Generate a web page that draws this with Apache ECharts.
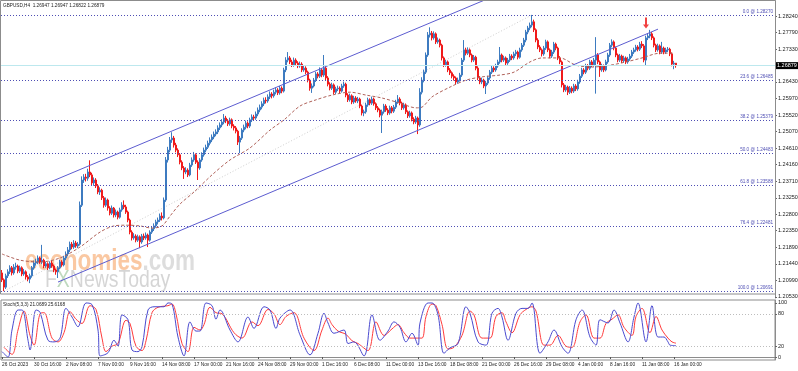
<!DOCTYPE html>
<html><head><meta charset="utf-8">
<script src="https://cdn.jsdelivr.net/npm/echarts@6/dist/echarts.min.js"></script>
<style>html,body{margin:0;padding:0;background:#fff}#c{width:798px;height:371px}</style>
</head><body><div id="c"></div>
<script>
// ---- data (GBPUSD H4, 26 Oct 2023 - 16 Jan 2024) ----
const opens = [
1.2119,1.2100,1.2080,1.2111,1.2122,1.2133,1.2119,1.2135,1.2138,1.2124,
1.2133,1.2116,1.2122,1.2108,1.2102,1.2111,1.2133,1.2146,1.2149,1.2160,
1.2149,1.2154,1.2138,1.2144,1.2133,1.2146,1.2138,1.2127,1.2122,1.2133,
1.2149,1.2141,1.2160,1.2171,1.2182,1.2198,1.2190,1.2201,1.2193,1.2198,
1.2305,1.2374,1.2382,1.2379,1.2396,1.2388,1.2366,1.2374,1.2358,1.2341,
1.2346,1.2325,1.2305,1.2319,1.2297,1.2283,1.2297,1.2278,1.2286,1.2272,
1.2292,1.2305,1.2300,1.2286,1.2264,1.2231,1.2215,1.2220,1.2209,1.2218,
1.2204,1.2220,1.2215,1.2223,1.2209,1.2231,1.2240,1.2248,1.2259,1.2264,
1.2275,1.2270,1.2319,1.2429,1.2456,1.2484,1.2489,1.2470,1.2456,1.2443,
1.2423,1.2407,1.2396,1.2401,1.2388,1.2415,1.2429,1.2443,1.2423,1.2407,
1.2429,1.2443,1.2456,1.2464,1.2475,1.2484,1.2492,1.2500,1.2506,1.2517,
1.2525,1.2533,1.2544,1.2536,1.2528,1.2539,1.2522,1.2517,1.2508,1.2478,
1.2489,1.2511,1.2519,1.2530,1.2522,1.2539,1.2547,1.2544,1.2555,1.2566,
1.2574,1.2583,1.2593,1.2591,1.2602,1.2610,1.2605,1.2615,1.2621,1.2613,
1.2626,1.2618,1.2676,1.2703,1.2709,1.2698,1.2690,1.2703,1.2695,1.2687,
1.2692,1.2676,1.2681,1.2670,1.2648,1.2626,1.2632,1.2648,1.2665,1.2659,
1.2676,1.2662,1.2681,1.2654,1.2637,1.2626,1.2635,1.2615,1.2624,1.2626,
1.2618,1.2632,1.2637,1.2607,1.2594,1.2605,1.2588,1.2599,1.2591,1.2596,
1.2577,1.2558,1.2561,1.2580,1.2594,1.2585,1.2596,1.2583,1.2572,1.2566,
1.2552,1.2561,1.2577,1.2566,1.2558,1.2572,1.2563,1.2574,1.2588,1.2596,
1.2585,1.2572,1.2580,1.2561,1.2550,1.2558,1.2541,1.2533,1.2544,1.2525,
1.2615,1.2648,1.2670,1.2717,1.2772,1.2777,1.2764,1.2775,1.2753,1.2758,
1.2744,1.2709,1.2690,1.2698,1.2676,1.2668,1.2659,1.2654,1.2643,1.2648,
1.2662,1.2703,1.2731,1.2722,1.2731,1.2717,1.2703,1.2711,1.2681,1.2654,
1.2643,1.2648,1.2632,1.2640,1.2654,1.2670,1.2681,1.2676,1.2687,1.2698,
1.2717,1.2703,1.2709,1.2695,1.2703,1.2714,1.2709,1.2720,1.2725,1.2711,
1.2731,1.2744,1.2758,1.2780,1.2791,1.2799,1.2808,1.2786,1.2758,1.2739,
1.2731,1.2720,1.2736,1.2753,1.2731,1.2714,1.2725,1.2747,1.2736,1.2709,
1.2698,1.2635,1.2621,1.2629,1.2615,1.2626,1.2618,1.2632,1.2624,1.2643,
1.2659,1.2676,1.2670,1.2687,1.2681,1.2698,1.2690,1.2703,1.2717,1.2698,
1.2676,1.2687,1.2676,1.2698,1.2717,1.2744,1.2753,1.2736,1.2717,1.2703,
1.2714,1.2701,1.2709,1.2698,1.2706,1.2714,1.2725,1.2731,1.2739,1.2733,
1.2747,1.2742,1.2703,1.2764,1.2769,1.2775,1.2764,1.2744,1.2731,1.2742,
1.2725,1.2736,1.2725,1.2731,1.2733,1.2720,1.2692,1.26947];
const closes = [
1.2100,1.2080,1.2111,1.2122,1.2133,1.2119,1.2135,1.2138,1.2124,1.2133,
1.2116,1.2122,1.2108,1.2102,1.2111,1.2133,1.2146,1.2149,1.2160,1.2149,
1.2154,1.2138,1.2144,1.2133,1.2146,1.2138,1.2127,1.2122,1.2133,1.2149,
1.2141,1.2160,1.2171,1.2182,1.2198,1.2190,1.2201,1.2193,1.2198,1.2305,
1.2374,1.2382,1.2379,1.2396,1.2388,1.2366,1.2374,1.2358,1.2341,1.2346,
1.2325,1.2305,1.2319,1.2297,1.2283,1.2297,1.2278,1.2286,1.2272,1.2292,
1.2305,1.2300,1.2286,1.2264,1.2231,1.2215,1.2220,1.2209,1.2218,1.2204,
1.2220,1.2215,1.2223,1.2209,1.2231,1.2240,1.2248,1.2259,1.2264,1.2275,
1.2270,1.2319,1.2429,1.2456,1.2484,1.2489,1.2470,1.2456,1.2443,1.2423,
1.2407,1.2396,1.2401,1.2388,1.2415,1.2429,1.2443,1.2423,1.2407,1.2429,
1.2443,1.2456,1.2464,1.2475,1.2484,1.2492,1.2500,1.2506,1.2517,1.2525,
1.2533,1.2544,1.2536,1.2528,1.2539,1.2522,1.2517,1.2508,1.2478,1.2489,
1.2511,1.2519,1.2530,1.2522,1.2539,1.2547,1.2544,1.2555,1.2566,1.2574,
1.2583,1.2593,1.2591,1.2602,1.2610,1.2605,1.2615,1.2621,1.2613,1.2626,
1.2618,1.2676,1.2703,1.2709,1.2698,1.2690,1.2703,1.2695,1.2687,1.2692,
1.2676,1.2681,1.2670,1.2648,1.2626,1.2632,1.2648,1.2665,1.2659,1.2676,
1.2662,1.2681,1.2654,1.2637,1.2626,1.2635,1.2615,1.2624,1.2626,1.2618,
1.2632,1.2637,1.2607,1.2594,1.2605,1.2588,1.2599,1.2591,1.2596,1.2577,
1.2558,1.2561,1.2580,1.2594,1.2585,1.2596,1.2583,1.2572,1.2566,1.2552,
1.2561,1.2577,1.2566,1.2558,1.2572,1.2563,1.2574,1.2588,1.2596,1.2585,
1.2572,1.2580,1.2561,1.2550,1.2558,1.2541,1.2533,1.2544,1.2525,1.2615,
1.2648,1.2670,1.2717,1.2772,1.2777,1.2764,1.2775,1.2753,1.2758,1.2744,
1.2709,1.2690,1.2698,1.2676,1.2668,1.2659,1.2654,1.2643,1.2648,1.2662,
1.2703,1.2731,1.2722,1.2731,1.2717,1.2703,1.2711,1.2681,1.2654,1.2643,
1.2648,1.2632,1.2640,1.2654,1.2670,1.2681,1.2676,1.2687,1.2698,1.2717,
1.2703,1.2709,1.2695,1.2703,1.2714,1.2709,1.2720,1.2725,1.2711,1.2731,
1.2744,1.2758,1.2780,1.2791,1.2799,1.2808,1.2786,1.2758,1.2739,1.2731,
1.2720,1.2736,1.2753,1.2731,1.2714,1.2725,1.2747,1.2736,1.2709,1.2698,
1.2635,1.2621,1.2629,1.2615,1.2626,1.2618,1.2632,1.2624,1.2643,1.2659,
1.2676,1.2670,1.2687,1.2681,1.2698,1.2690,1.2703,1.2717,1.2698,1.2676,
1.2687,1.2676,1.2698,1.2717,1.2744,1.2753,1.2736,1.2717,1.2703,1.2714,
1.2701,1.2709,1.2698,1.2706,1.2714,1.2725,1.2731,1.2739,1.2733,1.2747,
1.2742,1.2703,1.2764,1.2769,1.2775,1.2764,1.2744,1.2731,1.2742,1.2725,
1.2736,1.2725,1.2731,1.2733,1.2720,1.2692,1.26947,1.26879];
const highs = [
1.2127,1.2104,1.2117,1.2129,1.2140,1.2138,1.2143,1.2147,1.2142,1.2139,
1.2137,1.2130,1.2126,1.2113,1.2117,1.2138,1.2153,1.2158,1.2167,1.2164,
1.2196,1.2158,1.2150,1.2148,1.2151,1.2152,1.2142,1.2131,1.2138,1.2155,
1.2154,1.2166,1.2178,1.2190,1.2205,1.2204,1.2209,1.2207,1.2204,1.2315,
1.2384,1.2390,1.2391,1.2405,1.2428,1.2394,1.2381,1.2379,1.2363,1.2354,
1.2350,1.2330,1.2326,1.2323,1.2302,1.2304,1.2300,1.2293,1.2290,1.2298,
1.2313,1.2318,1.2306,1.2290,1.2268,1.2236,1.2228,1.2225,1.2224,1.2222,
1.2226,1.2227,1.2230,1.2227,1.2236,1.2247,1.2255,1.2265,1.2271,1.2282,
1.2285,1.2326,1.2437,1.2465,1.2492,1.2505,1.2495,1.2476,1.2461,1.2448,
1.2428,1.2412,1.2409,1.2406,1.2421,1.2436,1.2451,1.2447,1.2428,1.2434,
1.2450,1.2463,1.2471,1.2482,1.2491,1.2499,1.2507,1.2513,1.2524,1.2532,
1.2541,1.2555,1.2550,1.2541,1.2545,1.2543,1.2527,1.2522,1.2512,1.2495,
1.2516,1.2526,1.2537,1.2535,1.2545,1.2554,1.2553,1.2562,1.2573,1.2581,
1.2590,1.2600,1.2601,1.2609,1.2617,1.2615,1.2622,1.2628,1.2626,1.2632,
1.2631,1.2682,1.2711,1.2725,1.2714,1.2704,1.2710,1.2708,1.2700,1.2699,
1.2697,1.2688,1.2686,1.2674,1.2652,1.2639,1.2654,1.2671,1.2670,1.2683,
1.2681,1.2717,1.2686,1.2659,1.2642,1.2641,1.2639,1.2630,1.2633,1.2631,
1.2638,1.2644,1.2641,1.2612,1.2611,1.2609,1.2605,1.2604,1.2602,1.2600,
1.2581,1.2567,1.2586,1.2600,1.2598,1.2603,1.2600,1.2587,1.2577,1.2570,
1.2567,1.2583,1.2582,1.2571,1.2578,1.2577,1.2580,1.2594,1.2607,1.2601,
1.2589,1.2586,1.2584,1.2565,1.2564,1.2562,1.2546,1.2550,1.2548,1.2626,
1.2656,1.2677,1.2724,1.2780,1.2793,1.2783,1.2782,1.2779,1.2765,1.2762,
1.2748,1.2713,1.2704,1.2702,1.2681,1.2672,1.2664,1.2658,1.2655,1.2668,
1.2709,1.2758,1.2737,1.2738,1.2735,1.2721,1.2717,1.2715,1.2686,1.2659,
1.2655,1.2652,1.2646,1.2660,1.2676,1.2687,1.2686,1.2693,1.2704,1.2739,
1.2721,1.2715,1.2713,1.2709,1.2720,1.2719,1.2726,1.2731,1.2729,1.2737,
1.2750,1.2764,1.2786,1.2797,1.2806,1.2827,1.2814,1.2790,1.2763,1.2744,
1.2735,1.2742,1.2759,1.2757,1.2735,1.2731,1.2753,1.2751,1.2740,1.2714,
1.2702,1.2640,1.2635,1.2633,1.2632,1.2631,1.2638,1.2637,1.2649,1.2665,
1.2682,1.2681,1.2693,1.2692,1.2704,1.2703,1.2709,1.2766,1.2722,1.2702,
1.2693,1.2691,1.2704,1.2723,1.2750,1.2760,1.2757,1.2740,1.2721,1.2720,
1.2718,1.2715,1.2713,1.2712,1.2720,1.2731,1.2737,1.2745,1.2744,1.2753,
1.2755,1.2747,1.2770,1.2776,1.2786,1.2780,1.2768,1.2748,1.2748,1.2746,
1.2753,1.2740,1.2737,1.2739,1.2737,1.2724,1.2701,1.26947];
const lows = [
1.2094,1.2069,1.2075,1.2105,1.2116,1.2112,1.2114,1.2128,1.2118,1.2119,
1.2110,1.2111,1.2101,1.2096,1.2091,1.2106,1.2128,1.2139,1.2143,1.2144,
1.2143,1.2132,1.2133,1.2127,1.2129,1.2133,1.2121,1.2114,1.2105,1.2129,
1.2136,1.2137,1.2154,1.2165,1.2176,1.2184,1.2185,1.2188,1.2187,1.2194,
1.2300,1.2366,1.2370,1.2372,1.2382,1.2360,1.2358,1.2352,1.2335,1.2333,
1.2319,1.2298,1.2300,1.2290,1.2277,1.2278,1.2271,1.2272,1.2266,1.2268,
1.2287,1.2294,1.2281,1.2258,1.2225,1.2208,1.2210,1.2203,1.2204,1.2187,
1.2199,1.2209,1.2210,1.2190,1.2205,1.2226,1.2234,1.2243,1.2252,1.2259,
1.2263,1.2266,1.2314,1.2422,1.2450,1.2476,1.2463,1.2450,1.2437,1.2417,
1.2401,1.2377,1.2390,1.2382,1.2384,1.2410,1.2424,1.2418,1.2374,1.2402,
1.2424,1.2438,1.2450,1.2459,1.2469,1.2478,1.2486,1.2494,1.2500,1.2511,
1.2519,1.2527,1.2530,1.2522,1.2523,1.2516,1.2510,1.2502,1.2470,1.2448,
1.2484,1.2505,1.2513,1.2516,1.2517,1.2533,1.2537,1.2539,1.2549,1.2560,
1.2568,1.2577,1.2584,1.2586,1.2596,1.2598,1.2600,1.2609,1.2607,1.2608,
1.2612,1.2614,1.2670,1.2697,1.2692,1.2684,1.2685,1.2689,1.2681,1.2682,
1.2670,1.2671,1.2664,1.2642,1.2619,1.2613,1.2628,1.2643,1.2653,1.2654,
1.2656,1.2657,1.2648,1.2631,1.2620,1.2621,1.2609,1.2610,1.2618,1.2612,
1.2614,1.2627,1.2601,1.2588,1.2589,1.2582,1.2583,1.2586,1.2585,1.2571,
1.2551,1.2549,1.2556,1.2575,1.2579,1.2580,1.2578,1.2566,1.2560,1.2546,
1.2503,1.2556,1.2561,1.2552,1.2553,1.2557,1.2558,1.2569,1.2583,1.2579,
1.2566,1.2567,1.2555,1.2544,1.2545,1.2535,1.2527,1.2528,1.2500,1.2520,
1.2609,1.2642,1.2665,1.2712,1.2765,1.2757,1.2759,1.2747,1.2748,1.2738,
1.2702,1.2684,1.2685,1.2670,1.2662,1.2653,1.2647,1.2637,1.2638,1.2644,
1.2657,1.2698,1.2716,1.2717,1.2711,1.2697,1.2698,1.2675,1.2648,1.2637,
1.2637,1.2626,1.2610,1.2635,1.2649,1.2665,1.2670,1.2671,1.2682,1.2693,
1.2697,1.2698,1.2689,1.2690,1.2698,1.2703,1.2704,1.2714,1.2705,1.2707,
1.2726,1.2739,1.2752,1.2774,1.2785,1.2793,1.2780,1.2752,1.2733,1.2725,
1.2713,1.2715,1.2731,1.2725,1.2708,1.2709,1.2720,1.2730,1.2703,1.2692,
1.2628,1.2615,1.2616,1.2607,1.2610,1.2612,1.2613,1.2618,1.2619,1.2638,
1.2654,1.2664,1.2665,1.2675,1.2676,1.2684,1.2685,1.2611,1.2692,1.2657,
1.2671,1.2670,1.2672,1.2693,1.2712,1.2738,1.2730,1.2711,1.2697,1.2698,
1.2695,1.2696,1.2692,1.2693,1.2701,1.2709,1.2720,1.2726,1.2727,1.2728,
1.2736,1.2697,1.2689,1.2758,1.2763,1.2758,1.2738,1.2725,1.2726,1.2719,
1.2720,1.2719,1.2720,1.2725,1.2714,1.2686,1.2678,1.26822];

// Moving average (brown dashed), read at sample bars: [barIndex, price]
const maPoints = [[0,1.2171],[9,1.2154],[19,1.2149],[29,1.2160],[39,1.2190],[49,1.2231],[56,1.2248],[62,1.2250],[69,1.2248],[75,1.2242],[80,1.2248],[84,1.2275],[89,1.2308],[96,1.2341],[105,1.2388],[114,1.2429],[124,1.2462],[134,1.2511],[141,1.2539],[149,1.2577],[157,1.2594],[165,1.2607],[174,1.2615],[182,1.2607],[190,1.2599],[199,1.2585],[207,1.2572],[210,1.2574],[215,1.2602],[224,1.2629],[232,1.2648],[240,1.2657],[249,1.2662],[256,1.2670],[264,1.2698],[270,1.2709],[279,1.2709],[287,1.2689],[295,1.2684],[304,1.2689],[312,1.2698],[320,1.2709],[329,1.2722],[336,1.2722]];

// Stochastic (5,3,3) %K and %D: [barIndex, value]
const stochK = [[0,10],[3,0],[5,50],[8,87],[10,87],[13,31],[14,13],[17,87],[19,83],[23,31],[26,28],[29,35],[32,90],[35,74],[38,56],[42,100],[45,97],[48,50],[49,2],[53,8],[56,31],[58,20],[60,78],[63,69],[65,13],[68,10],[70,19],[73,87],[76,93],[81,93],[83,100],[85,98],[88,37],[91,2],[94,65],[97,48],[99,48],[102,100],[105,95],[107,70],[109,87],[114,50],[118,28],[123,74],[126,53],[131,93],[134,87],[137,53],[139,72],[144,87],[149,41],[154,4],[158,44],[161,81],[163,63],[166,44],[171,50],[173,25],[176,28],[181,2],[185,78],[189,31],[193,48],[196,65],[199,55],[202,28],[205,44],[208,22],[209,63],[213,100],[215,100],[218,78],[221,7],[224,17],[228,25],[232,93],[234,81],[238,28],[242,22],[245,81],[248,90],[250,74],[253,31],[257,81],[260,90],[263,90],[265,100],[269,7],[273,28],[276,50],[280,19],[283,7],[287,69],[290,87],[294,37],[297,22],[299,69],[303,63],[306,87],[309,63],[313,28],[316,74],[318,100],[322,28],[325,95],[328,37],[331,37],[333,28],[334,22],[337,21.0689]];
const stochD = [[1,18],[5,5],[8,50],[11,85],[14,40],[16,22],[19,80],[21,82],[25,35],[28,28],[31,45],[34,84],[37,70],[40,62],[44,95],[47,88],[50,35],[52,10],[55,20],[58,25],[62,68],[64,62],[67,20],[70,12],[72,30],[75,82],[78,92],[83,95],[85,98],[87,80],[90,25],[93,10],[96,55],[99,50],[101,60],[104,92],[107,82],[110,80],[116,45],[120,35],[125,65],[128,58],[133,88],[136,80],[139,60],[142,75],[146,82],[151,35],[156,12],[160,50],[163,72],[165,60],[168,48],[172,42],[175,30],[178,25],[183,12],[187,65],[191,40],[195,52],[198,60],[201,45],[204,35],[207,35],[210,35],[212,75],[215,98],[217,95],[220,60],[223,15],[226,18],[230,40],[234,85],[236,78],[240,35],[244,35],[247,75],[250,82],[252,65],[255,45],[259,78],[262,88],[265,93],[267,85],[271,22],[274,22],[278,40],[282,20],[285,18],[289,65],[292,78],[296,35],[299,35],[302,62],[305,70],[308,78],[311,55],[315,40],[317,75],[320,90],[324,45],[327,75],[330,50],[333,35],[335,28],[337,25.6168]];

const tickLabels = ['26 Oct 2023','30 Oct 16:00','2 Nov 08:00','7 Nov 00:00','9 Nov 16:00','14 Nov 08:00','17 Nov 00:00','21 Nov 16:00','24 Nov 08:00','29 Nov 00:00','1 Dec 16:00','6 Dec 08:00','11 Dec 00:00','13 Dec 16:00','18 Dec 08:00','21 Dec 00:00','26 Dec 16:00','29 Dec 08:00','4 Jan 00:00','8 Jan 16:00','11 Jan 08:00','16 Jan 00:00'];
const priceTicks = [1.20530,1.20990,1.21440,1.21890,1.22350,1.22800,1.23250,1.23710,1.24160,1.24610,1.25070,1.25520,1.25970,1.26430,1.27330,1.27790,1.28240];
const stochTicks = [0,20,80,100];
const stochLevels = [20,80];
const fibLevels = [0.0,23.6,38.2,50.0,61.8,76.4,100.0];
const fibPrices = [1.28270,1.26485,1.25379,1.24483,1.23588,1.22481,1.20691];
const fibBase = [[1,1.20691],[265,1.28270]];
const channelUpper = [[0,1.2313],[244,1.2874]];
const channelLower = [[28,1.2094],[328,1.2788]];
const arrowPoint = [[322,1.2805]];
const currentPrice = 1.26879;
const headerText = 'GBPUSD,H4  1.26947 1.26947 1.26822 1.26879';
const stochText = 'Stoch(5,3,3) 21.0689 25.6168';

// ---- layout ----
const SLOTS = 387;             // bars + right shift
const cats = Array.from({length: SLOTS}, (_, i) => String(i));
const Y_MIN = 1.20502, Y_MAX = 1.28652;
const FONT = 'Liberation Sans';
const fibColor = '#4e4eb4';

const candleData = closes.map((c, i) => [opens[i], c, lows[i], highs[i]]);
const showTick = (i) => i % 16 === 0 && (i / 16) < tickLabels.length;

const chart = echarts.init(document.getElementById('c'), null, {renderer: 'canvas'});
chart.setOption({
  animation: false,
  backgroundColor: '#ffffff',
  grid: [
    {left: 1, width: 774, top: 1, height: 297, show: false, containLabel: false, outerBoundsMode: 'none'},
    {left: 1, width: 774, top: 300, height: 60, show: true, borderColor: '#8c8c8c', borderWidth: 1, containLabel: false, outerBoundsMode: 'none'}
  ],
  xAxis: [
    {type: 'category', gridIndex: 0, data: cats, boundaryGap: true,
     axisLine: {show: false}, axisTick: {show: false}, axisLabel: {show: false}, splitLine: {show: false}},
    {type: 'category', gridIndex: 1, data: cats, boundaryGap: true,
     axisLine: {show: true, lineStyle: {color: '#8c8c8c'}},
     axisTick: {show: true, alignWithLabel: true, length: 2, interval: showTick, lineStyle: {color: '#555'}},
     axisLabel: {show: true, interval: showTick, showMinLabel: true, showMaxLabel: true, hideOverlap: false,
       align: 'left', margin: 2, fontSize: 4.8, fontFamily: FONT, color: '#222',
       formatter: (v, i) => tickLabels[i / 16] || ''},
     splitLine: {show: false}}
  ],
  yAxis: [
    {type: 'value', gridIndex: 0, position: 'right', min: Y_MIN, max: Y_MAX,
     axisLine: {show: true, lineStyle: {color: '#8c8c8c'}},
     axisTick: {show: true, length: 2, customValues: priceTicks, lineStyle: {color: '#666'}},
     axisLabel: {show: true, customValues: priceTicks, margin: 3, fontSize: 5.5, fontFamily: FONT, color: '#222',
       formatter: v => v.toFixed(5)},
     splitLine: {show: false}},
    {type: 'value', gridIndex: 1, position: 'right', min: -5.5, max: 105.5,
     axisLine: {show: true, lineStyle: {color: '#8c8c8c'}},
     axisTick: {show: true, length: 2, customValues: stochTicks, lineStyle: {color: '#666'}},
     axisLabel: {show: true, customValues: stochTicks, showMinLabel: true, showMaxLabel: true, margin: 3, fontSize: 5.5, fontFamily: FONT, color: '#222'},
     splitLine: {show: false}}
  ],
  series: [
    {type: 'line', xAxisIndex: 0, yAxisIndex: 0, data: fibBase, symbol: 'none', silent: true, z: 1,
     lineStyle: {color: '#cfcfcf', width: 1, type: [1, 2]}},
    {type: 'candlestick', xAxisIndex: 0, yAxisIndex: 0, data: candleData, barWidth: 1.6, z: 3,
     itemStyle: {color: '#3d7bc0', color0: '#f01a1a', borderColor: '#3d7bc0', borderColor0: '#f01a1a', borderWidth: 1},
     markLine: {
       silent: true, symbol: ['none', 'none'], animation: false, precision: 5,
       data: fibPrices.map((p, k) => ({
         yAxis: p,
         lineStyle: {color: fibColor, width: 1, type: [1, 2]},
         label: {show: true, position: 'insideEndTop', distance: [2, 1], fontSize: 4.6, fontFamily: FONT, color: fibColor,
           formatter: fibLevels[k].toFixed(1) + ' @ ' + p.toFixed(5)}
       })).concat([{
         yAxis: currentPrice,
         lineStyle: {color: '#bde8ee', width: 1, type: 'solid'},
         label: {show: true, position: 'end', distance: 0, fontSize: 5.5, fontFamily: FONT, color: '#fff',
           backgroundColor: '#000', padding: [1, 2, 0, 2], formatter: currentPrice.toFixed(5)}
       }])
     }},
    {type: 'line', xAxisIndex: 0, yAxisIndex: 0, data: maPoints, symbol: 'none', silent: true, z: 4, smooth: 0.3,
     lineStyle: {color: '#b0625a', width: 1, type: [3, 2]}},
    {type: 'line', xAxisIndex: 0, yAxisIndex: 0, data: channelUpper, symbol: 'none', silent: true, z: 4, clip: true,
     lineStyle: {color: '#5c5cd0', width: 1}},
    {type: 'line', xAxisIndex: 0, yAxisIndex: 0, data: channelLower, symbol: 'none', silent: true, z: 4, clip: true,
     lineStyle: {color: '#5c5cd0', width: 1}},
    {type: 'scatter', xAxisIndex: 0, yAxisIndex: 0, data: arrowPoint, silent: true, z: 5,
     symbol: 'path://M2,0 L4,0 L4,7 L6,7 L3,11 L0,7 L2,7 Z', symbolSize: [6, 11],
     itemStyle: {color: '#ee1111'}},
    {type: 'line', xAxisIndex: 1, yAxisIndex: 1, data: stochD, symbol: 'none', silent: true, z: 3, smooth: 0.35,
     lineStyle: {color: '#ff3b3b', width: 1},
     markLine: {silent: true, symbol: ['none', 'none'], precision: 2,
       data: stochLevels.map(v => ({yAxis: v})),
       lineStyle: {color: '#bdbdbd', width: 1, type: [1, 2]}, label: {show: false}}},
    {type: 'line', xAxisIndex: 1, yAxisIndex: 1, data: stochK, symbol: 'none', silent: true, z: 4, smooth: 0.35,
     lineStyle: {color: '#4a4ad0', width: 1}}
  ],
  graphic: [
    {type: 'rect', z: 10, silent: true, shape: {x: 0.5, y: 0.5, width: 775, height: 293.5},
     style: {fill: 'none', stroke: '#8c8c8c', lineWidth: 1}},
    {type: 'text', x: 25, y: 262, scaleX: 0.75, z: 0, silent: true,
     style: {text: '{o|economies}{g|.com}', font: 'bold 30px ' + FONT, verticalAlign: 'middle',
       rich: {o: {fill: 'rgba(245,145,70,0.5)', font: 'bold 30px ' + FONT}, g: {fill: 'rgba(170,170,170,0.4)', font: 'bold 30px ' + FONT}}}},
    {type: 'text', x: 45, y: 280, scaleX: 0.81, z: 0, silent: true,
     style: {text: '{g|F}{x|X}{g|NewsToday}', font: '24px ' + FONT, verticalAlign: 'middle',
       rich: {g: {fill: 'rgba(150,150,150,0.4)', font: '24px ' + FONT}, x: {fill: 'rgba(110,170,110,0.45)', font: '24px ' + FONT}}}},
    {type: 'text', left: 3, top: 3, z: 10, silent: true,
     style: {text: headerText, font: '4.7px ' + FONT, fill: '#222'}},
    {type: 'text', left: 3, top: 302, z: 10, silent: true,
     style: {text: stochText, font: '4.7px ' + FONT, fill: '#222'}}
  ]
});
</script>
</body></html>
